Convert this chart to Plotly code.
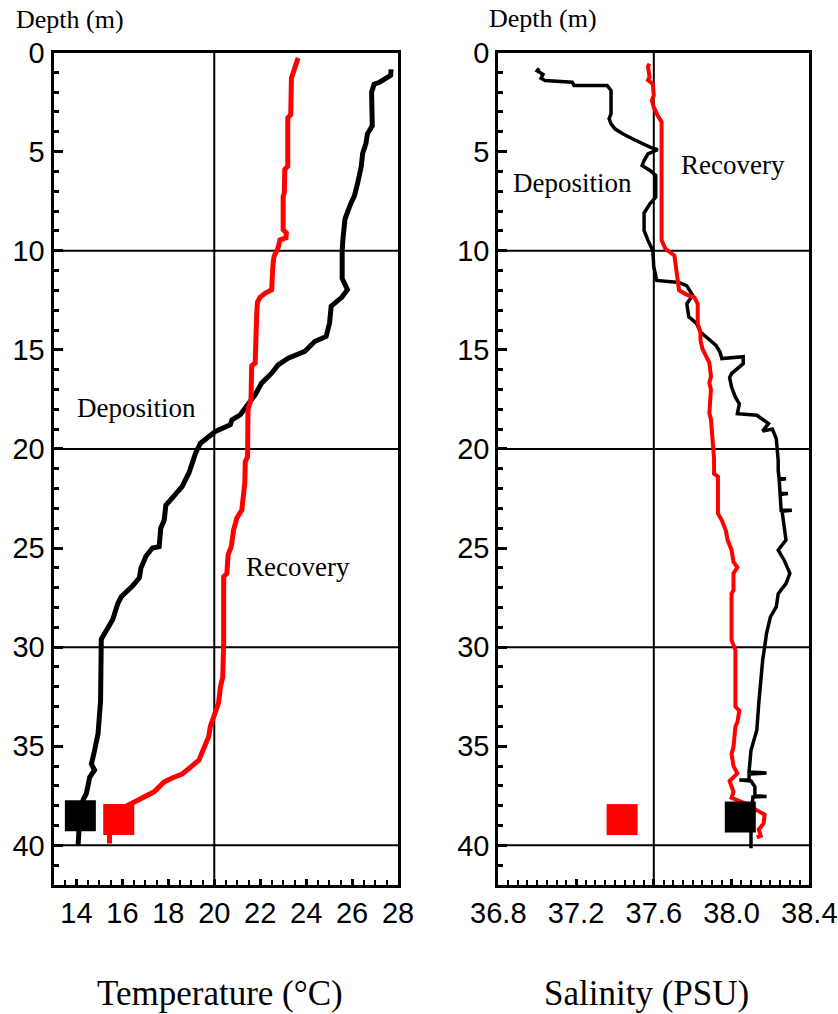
import plotly.graph_objects as go

# ---- Temperature profiles (depth in m, temperature in deg C) ----
dep_temp_depth = [0.85, 1.15, 1.5, 1.6, 2.0, 3.7, 4.1, 4.6, 5.1, 5.75, 6.6, 7.25, 7.6, 8.1, 8.4,
                  9.45, 10.0, 11.4, 11.97, 12.35, 12.8, 13.65, 14.33, 14.58, 15.08, 15.42, 15.76,
                  16.18, 16.68, 17.27, 17.94, 18.28, 18.53, 18.78, 19.12, 19.46, 19.71, 20.2, 20.64,
                  21.2, 21.9, 22.5, 22.85, 23.6, 24.0, 24.93, 25.0, 25.4, 26.0, 26.5, 26.9, 27.46,
                  27.8, 28.6, 29.1, 29.6, 32.7, 34.36, 35.2, 35.9, 36.2, 36.55, 37.39, 37.7, 38.5,
                  39.4, 40.0]
dep_temp_value = [27.7, 27.68, 27.2, 26.96, 26.85, 26.88, 26.67, 26.6, 26.46, 26.4, 26.24, 26.1,
                  25.95, 25.8, 25.69, 25.6, 25.57, 25.57, 25.8, 25.55, 25.09, 25.02, 24.87, 24.37,
                  23.94, 23.22, 22.78, 22.5, 22.06, 21.78, 21.35, 21.13, 20.77, 20.7, 20.05, 19.62,
                  19.4, 19.19, 19.04, 18.9, 18.6, 18.17, 17.89, 17.82, 17.67, 17.6, 17.31, 17.03,
                  16.81, 16.74, 16.45, 15.95, 15.8, 15.58, 15.3, 15.08, 15.05, 14.94, 14.79, 14.65,
                  14.79, 14.58, 14.43, 14.29, 14.15, 14.07, 14.07]

rec_temp_depth = [0.27, 1.3, 3.13, 3.3, 5.74, 5.9, 7.09, 7.25, 8.94, 9.1, 9.35, 9.45, 9.85, 10.3,
                  10.8, 11.97, 12.15, 12.35, 12.6, 13.15, 15.67, 15.8, 17.5, 18.0, 20.4, 20.64,
                  21.7, 23.08, 23.5, 24.1, 24.93, 25.35, 26.28, 26.45, 29.8, 31.5, 32.0, 32.8,
                  33.5, 34.0, 34.5, 35.2, 35.7, 36.05, 36.4, 36.6, 36.8, 37.3, 37.5, 37.8, 38.0,
                  38.7, 39.5, 39.9]
rec_temp_value = [23.65, 23.36, 23.33, 23.2, 23.2, 23.07, 23.05, 23.0, 23.0, 23.14, 23.12, 22.86,
                  22.78, 22.6, 22.55, 22.5, 22.21, 21.99, 21.88, 21.85, 21.78, 21.63, 21.6, 21.47,
                  21.45, 21.35, 21.33, 21.2, 20.98, 20.84, 20.74, 20.6, 20.55, 20.41, 20.41, 20.37,
                  20.27, 20.19, 19.98, 19.83, 19.76, 19.54, 19.33, 18.97, 18.6, 18.17, 17.82, 17.38,
                  17.03, 16.6, 16.2, 15.6, 15.44, 15.44]

# ---- Salinity profiles (depth in m, salinity in PSU) ----
dep_sal_depth = [0.8, 0.92, 1.1, 1.3, 1.41, 1.5, 1.66, 1.66, 1.92, 3.09, 3.34, 3.6, 3.85, 4.1, 4.35,
                 4.6, 4.77, 4.9, 5.11, 5.45, 5.7, 5.95, 6.2, 7.3, 7.63, 8.1, 8.97, 9.48, 10.0,
                 10.82, 11.5, 11.6, 11.77, 12.25, 12.67, 13.34, 13.67, 14.1, 14.5, 14.78, 15.1,
                 15.44, 15.35, 15.7, 15.95, 16.2, 16.4, 16.88, 17.39, 17.72, 18.22, 18.3, 18.72,
                 19.1, 19.0, 19.48, 20.57, 21.09, 21.5, 21.5, 21.55, 22.25, 22.25, 22.3, 23.09,
                 23.09, 23.15, 23.76, 24.6, 25.1, 25.6, 26.28, 26.79, 27.3, 27.97, 28.47, 29.3,
                 30.0, 30.66, 32.84, 34.19, 35.2, 36.3, 36.35, 36.4, 36.7, 36.7, 36.75, 37.05,
                 37.5, 37.53, 37.56, 38.57, 39.4, 40.15]
dep_sal_value = [37.01, 37.0, 37.03, 37.02, 37.04, 37.18, 37.19, 37.36, 37.38, 37.38, 37.37, 37.38,
                 37.40, 37.44, 37.49, 37.54, 37.58, 37.62, 37.57, 37.55, 37.54, 37.58, 37.61, 37.61,
                 37.58, 37.55, 37.55, 37.57, 37.595, 37.60, 37.615, 37.73, 37.77, 37.80, 37.77,
                 37.78, 37.82, 37.84, 37.89, 37.92, 37.94, 37.95, 38.06, 38.06, 38.03, 38.0, 37.99,
                 38.0, 38.02, 38.04, 38.03, 38.13, 38.19, 38.16, 38.21, 38.23, 38.24, 38.24, 38.245,
                 38.28, 38.245, 38.25, 38.29, 38.25, 38.255, 38.31, 38.26, 38.27, 38.28, 38.24,
                 38.27, 38.30, 38.28, 38.24, 38.23, 38.20, 38.18, 38.17, 38.16, 38.14, 38.13, 38.10,
                 38.09, 38.18, 38.09, 38.09, 38.04, 38.10, 38.12, 38.12, 38.18, 38.11, 38.10, 38.10,
                 38.10]

rec_sal_depth = [0.57, 0.7, 1.24, 1.4, 1.58, 2.17, 2.42, 2.76, 3.18, 3.5, 9.48, 9.9, 10.24, 10.99,
                 11.33, 12.0, 12.2, 12.37, 12.7, 13.68, 14.1, 14.5, 14.94, 15.36, 15.66, 16.33,
                 16.67, 17.0, 18.2, 18.5, 19.35, 20.5, 21.25, 21.4, 23.26, 23.6, 24.1, 24.6, 25.1,
                 25.7, 25.97, 26.28, 27.13, 27.3, 29.65, 29.99, 30.15, 33.0, 33.2, 33.8, 34.0,
                 35.03, 35.4, 36.0, 36.37, 36.76, 37.3, 37.6, 38.0, 38.2, 38.45, 38.9, 39.2,
                 39.52, 39.6]
rec_sal_value = [37.578, 37.57, 37.578, 37.57, 37.595, 37.60, 37.59, 37.60, 37.62, 37.64, 37.64,
                 37.66, 37.706, 37.715, 37.72, 37.73, 37.766, 37.81, 37.826, 37.826, 37.84, 37.84,
                 37.85, 37.87, 37.886, 37.894, 37.886, 37.894, 37.886, 37.894, 37.90, 37.91, 37.91,
                 37.93, 37.93, 37.95, 37.97, 37.98, 38.0, 38.01, 38.03, 38.01, 38.01, 38.0, 38.0,
                 38.01, 38.02, 38.02, 38.04, 38.03, 38.02, 38.01, 38.0, 38.01, 38.03, 37.99, 38.01,
                 38.0, 38.1, 38.125, 38.17, 38.165, 38.14, 38.15, 38.13]

# ---- Near-bottom square markers ----
temp_marker_depth = [38.5, 38.7]
temp_marker_value = [14.17, 15.84]
sal_marker_depth = [38.57, 38.7]
sal_marker_value = [38.045, 37.437]
marker_colors = ["black", "#ff0000"]

# ---- Axis settings ----
temp_range = [13, 28]
sal_range = [36.8, 38.4]
depth_range = [42, 0]
grid_depths = [10, 20, 30, 40]
grid_temp = [20]
grid_sal = [37.6]

RED = "#ff0000"
SANS = "Liberation Sans, Arial, sans-serif"
SERIF = "Liberation Serif, Times New Roman, serif"

fig = go.Figure()

fig.add_trace(go.Scatter(x=dep_temp_value, y=dep_temp_depth, mode="lines",
                         line=dict(color="black", width=5), xaxis="x", yaxis="y"))
fig.add_trace(go.Scatter(x=rec_temp_value, y=rec_temp_depth, mode="lines",
                         line=dict(color=RED, width=5), xaxis="x", yaxis="y"))
fig.add_trace(go.Scatter(x=temp_marker_value, y=temp_marker_depth, mode="markers",
                         marker=dict(symbol="square", size=31, color=marker_colors, line=dict(width=0)),
                         xaxis="x", yaxis="y"))

fig.add_trace(go.Scatter(x=dep_sal_value, y=dep_sal_depth, mode="lines",
                         line=dict(color="black", width=3.5), xaxis="x2", yaxis="y2"))
fig.add_trace(go.Scatter(x=rec_sal_value, y=rec_sal_depth, mode="lines",
                         line=dict(color=RED, width=4), xaxis="x2", yaxis="y2"))
fig.add_trace(go.Scatter(x=sal_marker_value, y=sal_marker_depth, mode="markers",
                         marker=dict(symbol="square", size=31, color=marker_colors, line=dict(width=0)),
                         xaxis="x2", yaxis="y2"))

W, H = 838, 1014
ydom = [1 - 885 / H, 1 - 52.5 / H]

common_axis = dict(showline=True, mirror=True, linecolor="black", linewidth=3,
                   showgrid=False, zeroline=False, ticks="inside", tickcolor="black",
                   tickwidth=2.5, automargin=False,
                   tickfont=dict(family=SANS, size=29, color="black"))

fig.update_layout(
    width=W, height=H, autosize=False,
    margin=dict(l=0, r=0, t=0, b=0, pad=0),
    paper_bgcolor="white", plot_bgcolor="white",
    showlegend=False,
    xaxis=dict(domain=[53.5 / W, 398 / W], range=temp_range, tick0=14, dtick=2, ticklen=6,
               minor=dict(dtick=0.5, ticks="inside", ticklen=5, tickcolor="black", tickwidth=2),
               anchor="y", **common_axis),
    yaxis=dict(domain=ydom, range=depth_range, tick0=0, dtick=5, ticklen=9,
               minor=dict(dtick=1, ticks="inside", ticklen=5, tickcolor="black", tickwidth=2.5),
               anchor="x", **common_axis),
    xaxis2=dict(domain=[498.3 / W, 809.3 / W], range=sal_range, tick0=36.8, dtick=0.4,
                tickformat=".1f", ticklen=6,
                minor=dict(dtick=0.05, ticks="inside", ticklen=5, tickcolor="black", tickwidth=2),
                anchor="y2", **common_axis),
    yaxis2=dict(domain=ydom, range=depth_range, tick0=0, dtick=5, ticklen=9,
                minor=dict(dtick=1, ticks="inside", ticklen=5, tickcolor="black", tickwidth=2.5),
                anchor="x2", **common_axis),
)

# Reference grid lines
shapes = []
for xr, yr, gx in (("x", "y", grid_temp), ("x2", "y2", grid_sal)):
    for g in gx:
        shapes.append(dict(type="line", xref=xr, yref=yr + " domain", x0=g, x1=g, y0=0, y1=1,
                           line=dict(color="black", width=2), layer="below"))
    for d in grid_depths:
        shapes.append(dict(type="line", xref=xr + " domain", yref=yr, x0=0, x1=1, y0=d, y1=d,
                           line=dict(color="black", width=2), layer="below"))
fig.update_layout(shapes=shapes)

ann = []
# Vertical axis captions
ann.append(dict(text="Depth (m)", xref="paper", yref="paper", x=14 / W, y=1 - 20 / H,
                xanchor="left", yanchor="middle", showarrow=False,
                font=dict(family=SERIF, size=26, color="black")))
ann.append(dict(text="Depth (m)", xref="paper", yref="paper", x=487 / W, y=1 - 19 / H,
                xanchor="left", yanchor="middle", showarrow=False,
                font=dict(family=SERIF, size=26, color="black")))
# Horizontal axis captions
ann.append(dict(text="Temperature (°C)", xref="paper", yref="paper", x=220 / W, y=1 - 993 / H,
                xanchor="center", yanchor="middle", showarrow=False,
                font=dict(family=SERIF, size=35, color="black")))
ann.append(dict(text="Salinity (PSU)", xref="paper", yref="paper", x=646 / W, y=1 - 993 / H,
                xanchor="center", yanchor="middle", showarrow=False,
                font=dict(family=SERIF, size=35, color="black")))
# Profile labels
for txt, x, y, xr, yr in (("Deposition", 16.6, 17.95, "x", "y"),
                          ("Recovery", 23.66, 25.95, "x", "y"),
                          ("Deposition", 37.18, 6.6, "x2", "y2"),
                          ("Recovery", 38.01, 5.7, "x2", "y2")):
    ann.append(dict(text=txt, xref=xr, yref=yr, x=x, y=y, xanchor="center", yanchor="middle",
                    showarrow=False, font=dict(family=SERIF, size=27, color="black")))
fig.update_layout(annotations=ann)

fig.write_html("out.html")
